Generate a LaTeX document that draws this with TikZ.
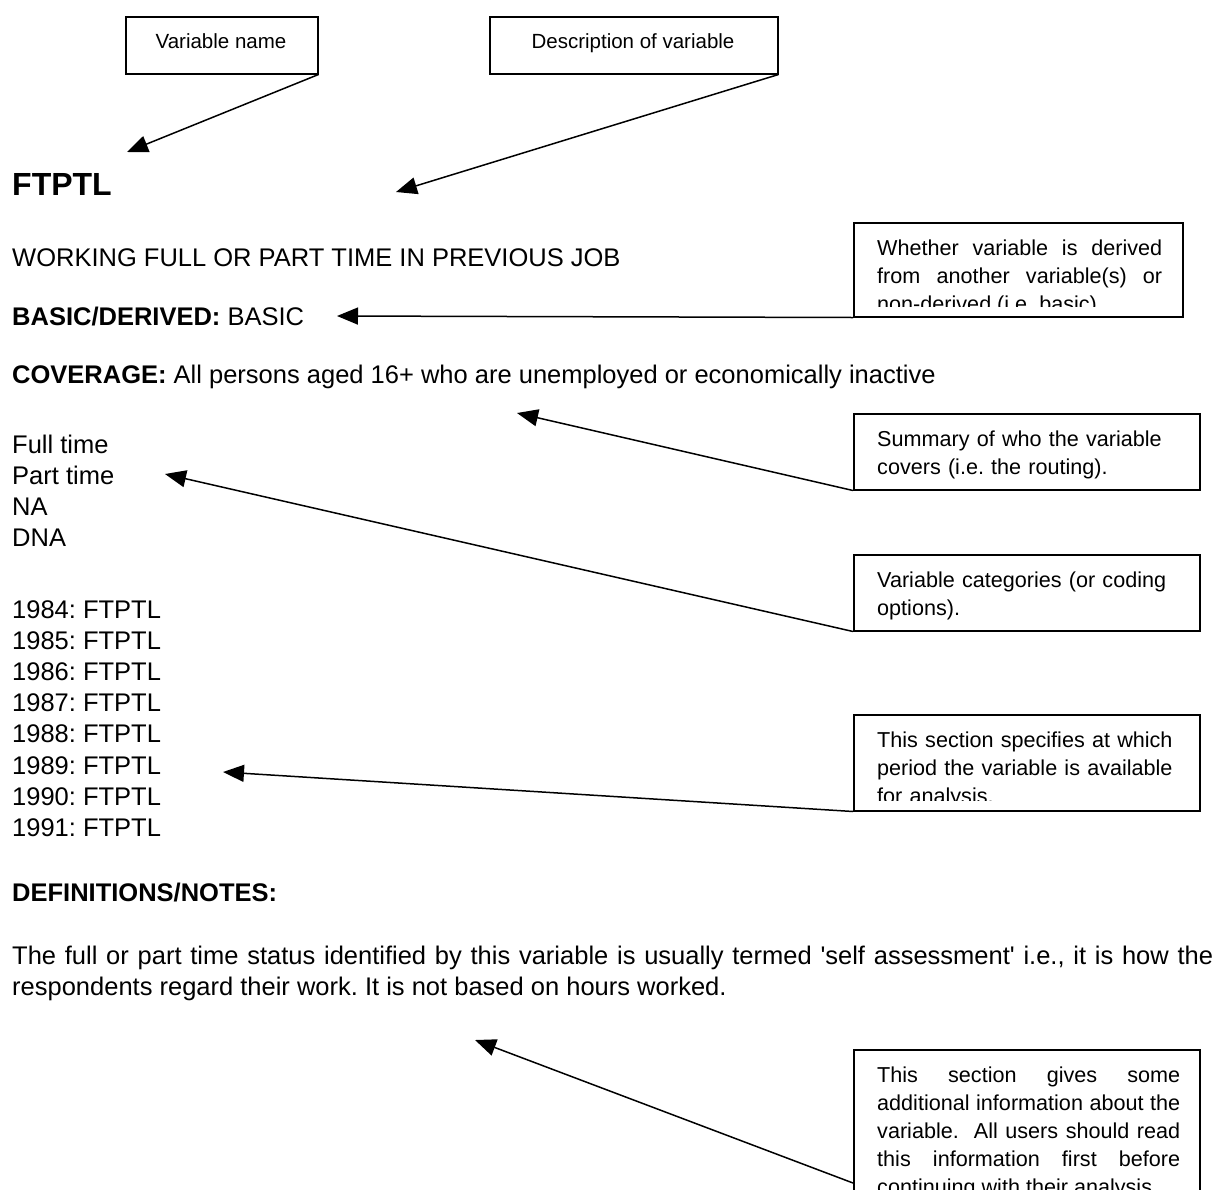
\documentclass[tikz,border=0pt]{standalone}
\usepackage{fontspec}
\setmainfont{Liberation Sans}[Ligatures=TeXOff]
\usetikzlibrary{arrows.meta}
\begin{document}
\frenchspacing
\begin{tikzpicture}[x=1pt,y=-1pt,
  body/.style={inner sep=0pt, anchor=base west, font=\fontsize{25.5}{31}\selectfont},
  head/.style={inner sep=0pt, anchor=base west, font=\fontsize{32}{38}\selectfont\bfseries},
  annbox/.style={draw, line width=1.5pt, inner sep=0pt, anchor=north west},
  boxtext/.style={inner sep=0pt, anchor=base west, font=\fontsize{21.6}{28}\selectfont},
  toptext/.style={inner sep=0pt, anchor=base, font=\fontsize{20.5}{24}\selectfont},
  link/.style={line width=1.5pt, -{Triangle[length=21pt,width=17pt]}}
]
\useasboundingbox (0,0) rectangle (1215,1189);
\clip (0,0) rectangle (1215,1189);

% top annotation boxes
\node[annbox, minimum width=192pt, minimum height=57pt] (varbox) at (125,16) {};
\node[toptext] (vartext) at (221,48) {Variable name};
\node[annbox, minimum width=288pt, minimum height=57pt] (descbox) at (489,16) {};
\node[toptext] (desctext) at (633,48) {Description of variable};

% main text
\node[head] (ftptl) at (12,195) {FTPTL};
\node[body] (title) at (12,266) {WORKING FULL OR PART TIME IN PREVIOUS JOB};
\node[body] (basic) at (12,325) {\textbf{BASIC/DERIVED:} BASIC};
\node[body] (cov) at (12,383) {\textbf{COVERAGE:} All persons aged 16+ who are unemployed or economically inactive};
\foreach \t [count=\i from 0] in {Full time, Part time, NA, DNA}
  \node[body] (cat\i) at (12,{453+31*\i}) {\t};
\foreach \yr [count=\i from 0] in {1984,1985,1986,1987,1988,1989,1990,1991}
  \node[body] (yr\yr) at (12,{618+31.2*\i}) {\yr: FTPTL};
\node[body] (defs) at (12,901) {\textbf{DEFINITIONS/NOTES:}};
\node[body, text width=1201pt, align=justify] (para) at (12,964)
  {The full or part time status identified by this variable is usually termed 'self assessment' i.e., it is how the\linebreak respondents regard their work. It is not based on hours worked.};

% right annotation boxes
\node[annbox, minimum width=329pt, minimum height=94pt] (whether) at (853,222) {};
\begin{scope}
\clip ([yshift=11pt]whether.south west) rectangle (whether.north east);
\node[boxtext, text width=285pt, align=justify] (whethertext) at (877,255)
  {Whether variable is derived\linebreak from another variable(s) or\linebreak non-derived (i.e. basic).};
\end{scope}

\node[annbox, minimum width=346pt, minimum height=76pt] (summary) at (853,413) {};
\node[boxtext, text width=303pt, align=left] (summarytext) at (877,446)
  {Summary of who the variable\\covers (i.e. the routing).};

\node[annbox, minimum width=346pt, minimum height=76pt] (catbox) at (853,554) {};
\node[boxtext, text width=303pt, align=left] (cattext) at (877,587)
  {Variable categories (or coding\\options).};

\node[annbox, minimum width=346pt, minimum height=96pt] (specbox) at (853,714) {};
\begin{scope}
\clip ([yshift=11pt]specbox.south west) rectangle (specbox.north east);
\node[boxtext, text width=303pt, align=left] (spectext) at (877,747)
  {This section specifies at which\\period the variable is available\\for analysis.};
\end{scope}

\node[annbox, minimum width=346pt, minimum height=160pt] (lastbox) at (853,1049) {};
\node[boxtext, text width=303pt, align=justify] (lasttext) at (877,1082)
  {This section gives some\linebreak additional information about the\linebreak variable.\ \ All users should read\linebreak this information first before\linebreak continuing with their analysis.};

% connectors
\coordinate (tipvar) at (127,152);
\coordinate (tipdesc) at (396,192);
\coordinate (tipbasic) at (337,316);
\coordinate (tipcov) at (517,413);
\coordinate (tipcat) at (165,474);
\coordinate (tipyr) at (223,772);
\coordinate (tipnotes) at (475,1040);
\coordinate (lasttail) at (853,1183);
\draw[link] (varbox.south east) -- (tipvar);
\draw[link] (descbox.south east) -- (tipdesc);
\draw[link] (whether.south west) -- (tipbasic);
\draw[link] (summary.south west) -- (tipcov);
\draw[link] (catbox.south west) -- (tipcat);
\draw[link] (specbox.south west) -- (tipyr);
\draw[link] (lasttail) -- (tipnotes);
\end{tikzpicture}
\end{document}
